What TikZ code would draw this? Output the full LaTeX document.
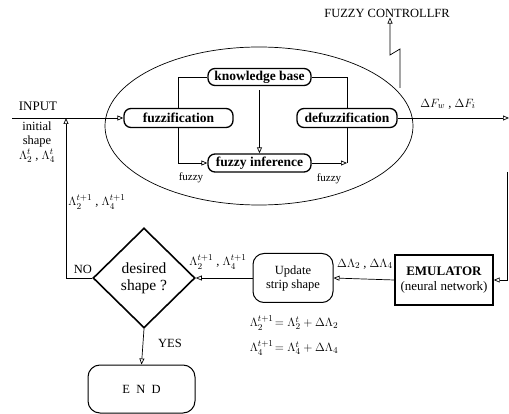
\documentclass[tikz,border=0pt]{standalone}
\usepackage{fontspec}
\setmainfont{Liberation Serif}
\usetikzlibrary{arrows.meta,shapes.geometric}
\tikzset{
  blk/.style={draw,line width=1.3pt,rounded corners=7pt,inner sep=0pt,
    minimum height=19pt,font=\fontsize{13.5}{14}\selectfont\bfseries},
  lbl/.style={inner sep=0pt,font=\fontsize{12.5}{14}\selectfont},
  tip/.style={-{Triangle[open,length=6pt,width=5pt]}},
}
\begin{document}
\begin{tikzpicture}[x=1pt,y=-1pt,line width=0.7pt]
                \useasboundingbox (0,0) rectangle (509,414);
                \draw (259,126) ellipse (154 and 79);
                \node[blk,minimum width=109pt] (fuzz) at (178.5,118) {fuzzification};
                \node[blk,minimum width=103pt,minimum height=17pt] (kb) at (259.5,77) {knowledge base};
                \node[blk,minimum width=100pt] (defuzz) at (347,118) {defuzzification};
                \node[blk,minimum width=103pt,minimum height=18pt] (inf) at (259.5,163) {fuzzy inference};
                \coordinate (dj) at (defuzz.south |- inf.east);
                \draw (fuzz.north) |- (kb.west);
                \draw (kb.east) -| (defuzz.north);
                \draw[tip] (fuzz.south) |- (inf.west);
                \draw (defuzz.south) -- (dj);
                \draw[tip] (inf.east) -- (dj);
                \draw[tip,shorten <=4pt] (kb) -- (inf);
                \node[lbl,font=\fontsize{11}{12}\selectfont] (fz1) at (191,178) {fuzzy};
                \node[lbl,font=\fontsize{11}{12}\selectfont] (fz2) at (329,179) {fuzzy};
                % input and output
                \coordinate (in) at (12,118);
                \coordinate (out) at (509,118);
                \coordinate (fb) at (66,118);
                \draw[tip] (in) -- (fuzz.west);
                \draw[tip] (defuzz.east) -- (out);
                \node[lbl,font=\fontsize{13}{14}\selectfont] (input) at (38,106) {INPUT};
                \node[lbl,align=center] (init) at (37,142) {initial\\shape\\[1pt]$\Lambda_2^t$ , $\Lambda_4^t$};
                \node[lbl] (dF) at (448,104) {$\Delta F_w$ , $\Delta F_i$};
                % fuzzy controller
                \node[lbl] (fc) at (387,13) {FUZZY CONTROLLFR};
                \coordinate (z1) at (400,88);
                \coordinate (z2) at (400,49);
                \coordinate (z3) at (390,55);
                \draw[tip] (z1) -- (z2) -- (z3) -- (fc.south -| z3);
                % lower loop
                \node[draw,diamond,line width=1.6pt,minimum width=102pt,minimum height=100pt,inner sep=0pt,
                  align=center,font=\fontsize{15.5}{17}\selectfont] (dec) at (144,278) {desired\\shape ?};
                \node[draw,rounded corners=11pt,line width=1pt,minimum width=80pt,minimum height=49pt,
                  align=center,font=\fontsize{12.5}{14}\selectfont] (upd) at (293,278) {Update\\strip shape};
                \node[draw,line width=1.4pt,minimum width=98pt,minimum height=50pt,inner sep=0pt,
                  align=center,font=\fontsize{13}{15}\selectfont] (emu) at (444,280) {\textbf{EMULATOR}\\(neural network)};
                \node[draw,rounded corners=12pt,line width=1pt,minimum width=107pt,minimum height=48pt,
                  font=\fontsize{12.5}{14}\selectfont] (end) at (141.5,389) {E\ \ N\ \ D};
                \coordinate (rt) at (507,172);
                \draw[tip] (rt) |- (emu.east);
                \draw[tip] (emu.west) -- (upd.east);
                \draw[tip] (upd.west) -- (dec.east);
                \draw[tip] (dec.south) -- (end.north);
                \draw[tip] (dec.west) -| (fb);
                \node[lbl] (no) at (83,269) {NO};
                \node[lbl] (yes) at (170,343) {YES};
                \node[lbl] (lam1) at (97,202) {$\Lambda_2^{t+1}$ , $\Lambda_4^{t+1}$};
                \node[lbl] (lam2) at (218,262) {$\Lambda_2^{t+1}$ , $\Lambda_4^{t+1}$};
                \node[lbl] (dlam) at (365,264) {$\Delta\Lambda_2$ , $\Delta\Lambda_4$};
                \node[lbl] (eq1) at (294,323) {$\Lambda_2^{t+1}\!= \Lambda_2^t + \Delta\Lambda_2$};
                \node[lbl] (eq2) at (294,348) {$\Lambda_4^{t+1}\!= \Lambda_4^t + \Delta\Lambda_4$};
\end{tikzpicture}
\end{document}
